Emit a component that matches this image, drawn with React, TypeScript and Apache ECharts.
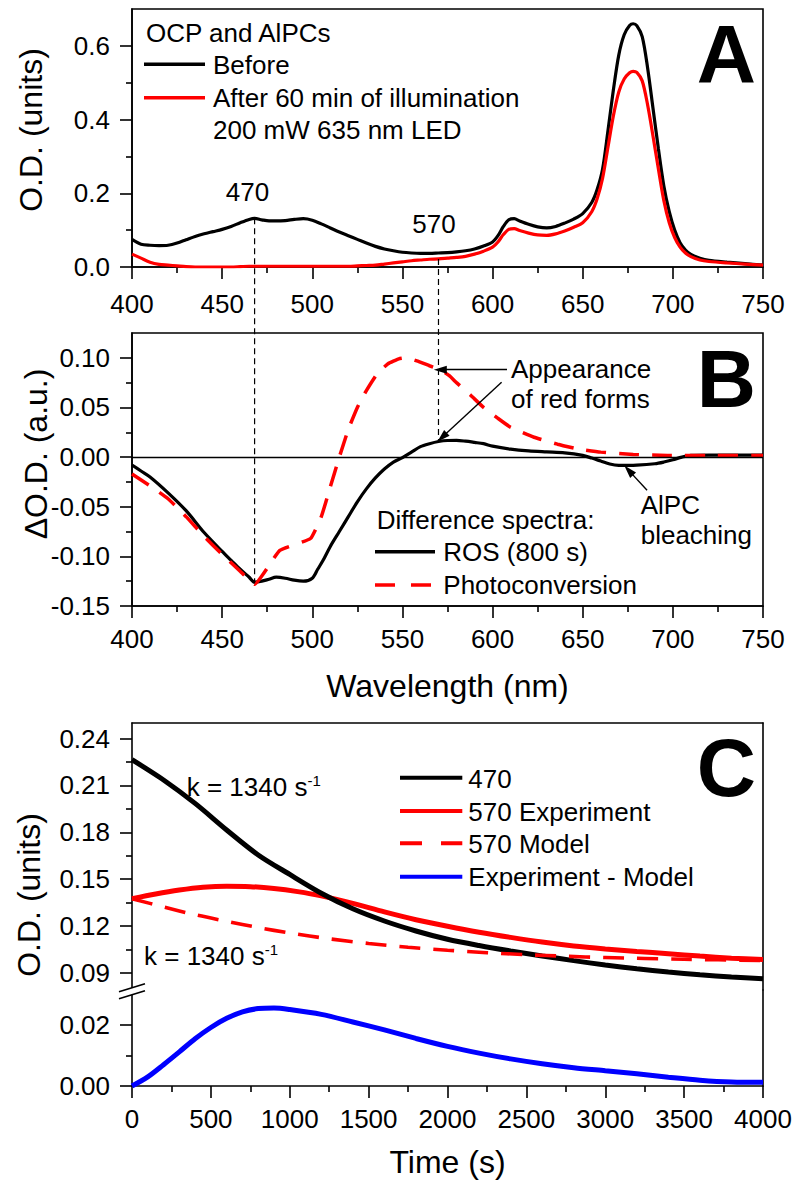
import React, { useEffect, useRef } from "react";
import * as echarts from "echarts";

const FONT = "Liberation Sans, Arial, Helvetica, sans-serif";
const RED = "#ff0000";
const BLUE = "#0000ff";
const BLACK = "#000000";

// ---------- Panel A: absorption spectra ----------
const wavelengthA = [400,405,410,415,420,425,430,435,440,445,450,455,460,465,468,472,476,480,485,490,495,500,505,510,515,520,525,530,535,540,545,550,555,560,565,570,575,580,585,590,595,600,603,606,609,612,615,620,625,630,635,640,645,650,655,658,661,664,667,670,673,676,678,680,683,686,689,692,695,698,701,704,707,710,715,720,730,740,750];
const odBefore = [0.075,0.062,0.059,0.058,0.059,0.065,0.074,0.083,0.090,0.096,
  0.102,0.110,0.120,0.129,0.132,0.128,0.125,0.125,0.126,0.129,
  0.131,0.127,0.117,0.106,0.095,0.085,0.075,0.065,0.056,0.049,
  0.044,0.040,0.038,0.037,0.037,0.038,0.039,0.041,0.044,0.049,
  0.057,0.068,0.085,0.110,0.128,0.131,0.125,0.116,0.109,0.106,
  0.110,0.119,0.130,0.145,0.175,0.210,0.265,0.370,0.480,0.575,
  0.630,0.655,0.660,0.655,0.625,0.540,0.430,0.320,0.220,0.150,
  0.100,0.066,0.046,0.034,0.024,0.018,0.013,0.009,0.005];
const odAfter = [0.035,0.024,0.013,0.007,0.005,0.003,0.001,0.000,0.000,0.000,
  0.000,0.000,0.001,0.002,0.002,0.002,0.002,0.002,0.002,0.002,
  0.002,0.002,0.002,0.002,0.002,0.002,0.003,0.004,0.005,0.008,
  0.011,0.014,0.017,0.019,0.021,0.022,0.024,0.026,0.029,0.035,
  0.043,0.054,0.068,0.088,0.102,0.104,0.099,0.092,0.087,0.086,
  0.090,0.098,0.108,0.120,0.150,0.185,0.240,0.325,0.410,0.475,
  0.510,0.527,0.531,0.528,0.505,0.440,0.355,0.265,0.180,0.120,
  0.080,0.054,0.038,0.028,0.019,0.015,0.011,0.008,0.005];
const tickA = [0, 0.2, 0.4, 0.6];
const minorTickA = [0.1, 0.3, 0.5];

// ---------- Panel B: difference spectra ----------
const wavelengthRos = [400,405,410,420,430,440,450,455,460,465,468,472,476,480,485,490,495,500,503,506,510,515,520,525,530,535,540,545,550,555,560,565,570,575,580,585,590,595,600,610,620,630,640,650,655,660,665,670,680,690,695,700,705,710,720,735,750];
const dOdRos = [-0.008,-0.014,-0.020,-0.036,-0.054,-0.076,-0.095,-0.104,-0.113,-0.121,
  -0.126,-0.125,-0.123,-0.121,-0.122,-0.124,-0.125,-0.122,-0.113,-0.104,
  -0.090,-0.075,-0.060,-0.045,-0.032,-0.021,-0.012,-0.005,-0.0005,0.005,
  0.0105,0.0135,0.0157,0.0167,0.0168,0.016,0.0148,0.0135,0.011,0.008,
  0.0062,0.0052,0.0043,0.0017,-0.001,-0.004,-0.007,-0.0083,-0.008,-0.0067,
  -0.005,-0.0027,0,0.0017,0.002,0.002,0.002];
const wavelengthPhoto = [400,410,420,430,440,450,460,468,482,499,505,510,515,520,525,530,536,542,548,552,558,565,571,576,580,588,595,603,610,623,636,648,660,678,697,720,750];
const dOdPhoto = [-0.017,-0.029,-0.042,-0.060,-0.080,-0.098,-0.115,-0.128,-0.094,-0.082,
  -0.060,-0.030,0.000,0.028,0.050,0.067,0.084,0.094,0.099,0.100,
  0.097,0.092,0.088,0.082,0.075,0.062,0.050,0.039,0.030,0.020,
  0.013,0.008,0.005,0.0027,0.0017,0.0017,0.0017];
const tickB = [-0.15, -0.1, -0.05, 0, 0.05, 0.1];
const minorTickB = [-0.125, -0.075, -0.025, 0.025, 0.075];
// annotation arrows [fromX, fromY, toX, toY] in data units
const arrowsB = [[608, 0.088, 571, 0.088], [605, 0.0755, 572, 0.020], [685.7, -0.0335, 675.5, -0.0134]];
// dashed guide lines: wavelength, top (panel A value), bottom (panel B value)
const guideLines = [[468, 0.132, -0.127], [570, 0.022, 0.016]];

// ---------- Panel C: kinetics ----------
const time470 = [0,200,400,600,800,1000,1200,1400,1600,1800,2000,2200,2400,2600,2800,3000,3200,3400,3600,3800,4000];
const od470 = [0.2265,0.2135,0.1985,0.1815,0.1655,0.1530,0.1410,0.1310,0.1232,0.1168,0.1115,0.1075,0.1040,0.1008,0.0978,0.0950,0.0926,0.0905,0.0887,0.0873,0.0862];
const time570 = [0,150,300,450,600,750,900,1050,1200,1400,1600,1800,2000,2200,2400,2600,2800,3000,3200,3400,3600,3800,4000];
const od570Exp = [0.1375,0.1405,0.1430,0.1448,0.1455,0.1452,0.1440,0.1420,0.1393,0.1345,0.1290,0.1240,0.1198,0.1160,0.1127,0.1097,0.1072,0.1053,0.1037,0.1022,0.1007,0.0994,0.0985];
const timeModel = [0,200,400,600,800,1000,1250,1500,1750,2000,2250,2500,2750,3000,3500,4000];
const od570Model = [0.1375,0.1322,0.1272,0.1230,0.1190,0.1155,0.1118,0.1088,0.1064,0.1045,0.1029,0.1016,0.1006,0.0998,0.0987,0.0979];
const timeDiff = [0,100,200,300,400,500,600,700,800,900,1000,1200,1400,1600,1800,2000,2200,2400,2600,2800,3000,3200,3400,3600,3800,4000];
const odDiff = [0,0.0030,0.0070,0.0112,0.0155,0.0192,0.0222,0.0243,0.0254,0.0256,0.0251,0.0235,0.0210,0.0184,0.0156,0.0130,0.0108,0.0089,0.0073,0.0060,0.0050,0.0040,0.0029,0.0019,0.0013,0.0012];
const tickCUp = [0.09, 0.12, 0.15, 0.18, 0.21, 0.24];
const minorTickCUp = [0.105, 0.135, 0.165, 0.195, 0.225];
const tickCLow = [0, 0.02];
const minorTickCLow = [0.01];

const zip = (xs: number[], ys: number[]) => xs.map((x, i) => [x, ys[i]]);
const lineS = { color: BLACK, width: 1.6 };

function xAxisMain(gridIndex: number, min: number, max: number, interval: number, margin: number) {
  return {
    type: "value", gridIndex, min, max, interval, position: "bottom",
    axisLine: { show: true, onZero: false, lineStyle: lineS },
    axisTick: { show: true, inside: false, length: 12, lineStyle: lineS },
    minorTick: { show: true, splitNumber: 2, length: 6, lineStyle: lineS },
    axisLabel: { show: true, margin, color: BLACK, fontSize: 26, fontFamily: FONT, formatter: (v: number) => String(v) },
    splitLine: { show: false }, minorSplitLine: { show: false },
  };
}
function yMajor(gridIndex: number, min: number, max: number, ticks: number[], digits: number) {
  return {
    type: "value", gridIndex, min, max, position: "left",
    axisLine: { show: true, onZero: false, lineStyle: lineS },
    axisTick: { show: true, inside: false, length: 12, lineStyle: lineS, customValues: ticks },
    axisLabel: { show: true, customValues: ticks, margin: 22, color: BLACK, fontSize: 26, fontFamily: FONT,
      formatter: (v: number) => (Math.abs(v) < 1e-9 ? 0 : v).toFixed(digits) },
    splitLine: { show: false },
  };
}
function yMinor(gridIndex: number, min: number, max: number, ticks: number[]) {
  return {
    type: "value", gridIndex, min, max, position: "left",
    axisLine: { show: false, onZero: false },
    axisTick: { show: true, inside: false, length: 6, lineStyle: lineS, customValues: ticks },
    axisLabel: { show: false },
    splitLine: { show: false },
  };
}
function yRightLine(gridIndex: number, min: number, max: number) {
  return {
    type: "value", gridIndex, min, max, position: "right",
    axisLine: { show: true, onZero: false, lineStyle: lineS },
    axisTick: { show: false }, axisLabel: { show: false }, splitLine: { show: false },
  };
}

function text(t: string, x: number, y: number, o: any = {}) {
  const align = o.align || "left";
  return {
    type: "text", x, y, z: 100, rotation: o.rotation || 0,
    style: {
      text: t, fill: BLACK, fontSize: o.size || 26, fontFamily: FONT, fontWeight: o.weight || "normal",
      align, textAlign: align, verticalAlign: "middle", textVerticalAlign: "middle",
    },
  };
}
function seg(x1: number, y1: number, x2: number, y2: number, color: string, width: number, dash?: number[]) {
  return {
    type: "line", z: 100, shape: { x1, y1, x2, y2 },
    style: { stroke: color, lineWidth: width, lineDash: dash || null },
  };
}
function kLabel(x: number, y: number) {
  return {
    type: "text", x, y, z: 100,
    style: {
      text: "{a|k = 1340 s}{b|-1}",
      align: "left", textAlign: "left", verticalAlign: "middle", textVerticalAlign: "middle",
      rich: {
        a: { fontSize: 26, fontFamily: FONT, fill: BLACK, lineHeight: 28 },
        b: { fontSize: 15, fontFamily: FONT, fill: BLACK, verticalAlign: "top" },
      },
    },
  };
}

function lineSeries(name: string, xi: number, yi: number, data: number[][], color: string, width: number, z: number, dash?: number[], smooth = 0.3) {
  return {
    type: "line", name, xAxisIndex: xi, yAxisIndex: yi, data,
    showSymbol: false, symbol: "none", smooth, silent: true,
    lineStyle: { color, width, type: dash || "solid" }, itemStyle: { color }, z,
  };
}

export default function App() {
  const ref = useRef<HTMLDivElement>(null);
  useEffect(() => {
    if (!ref.current) return;
    const chart = echarts.init(ref.current, null, { renderer: "svg" });
    const gridBase = { left: 132, width: 631, containLabel: false, outerBoundsMode: "none" };
    const option: any = {
      animation: false,
      backgroundColor: "#ffffff",
      grid: [
        { ...gridBase, top: 9, height: 258, show: true, borderColor: BLACK, borderWidth: 1.6, backgroundColor: "transparent" },
        { ...gridBase, top: 333, height: 273, show: true, borderColor: BLACK, borderWidth: 1.6, backgroundColor: "transparent" },
        { ...gridBase, top: 723, height: 267 },
        { ...gridBase, top: 990, height: 96 },
      ],
      xAxis: [
        xAxisMain(0, 400, 750, 50, 24),
        xAxisMain(1, 400, 750, 50, 20),
        {
          type: "value", gridIndex: 2, min: 0, max: 4000, position: "top",
          axisLine: { show: true, onZero: false, lineStyle: lineS },
          axisTick: { show: false }, axisLabel: { show: false }, splitLine: { show: false },
        },
        xAxisMain(3, 0, 4000, 500, 20),
      ],
      yAxis: [
        yMajor(0, 0, 0.7, tickA, 1),
        yMinor(0, 0, 0.7, minorTickA),
        yMajor(1, -0.15, 0.125, tickB, 2),
        yMinor(1, -0.15, 0.125, minorTickB),
        yMajor(2, 0.079, 0.25, tickCUp, 2),
        yMinor(2, 0.079, 0.25, minorTickCUp),
        yRightLine(2, 0.079, 0.25),
        yMajor(3, 0, 0.0315, tickCLow, 2),
        yMinor(3, 0, 0.0315, minorTickCLow),
        yRightLine(3, 0, 0.0315),
      ],
      series: [
        lineSeries("Before", 0, 0, zip(wavelengthA, odBefore), BLACK, 3.2, 3),
        lineSeries("After 60 min of illumination", 0, 0, zip(wavelengthA, odAfter), RED, 3.2, 4),
        {
          ...lineSeries("ROS (800 s)", 1, 2, zip(wavelengthRos, dOdRos), BLACK, 3.2, 3),
          markLine: {
            silent: true, symbol: ["none", "none"], label: { show: false },
            lineStyle: { color: BLACK, width: 1.3, type: "solid" }, data: [{ yAxis: 0 }],
          },
        },
        {
          ...lineSeries("Photoconversion", 1, 2, zip(wavelengthPhoto, dOdPhoto), RED, 3.5, 4, [20, 13], 0.12),
          markLine: {
            silent: true, symbol: ["none", "triangle"], symbolSize: [8, 13], label: { show: false },
            lineStyle: { color: BLACK, width: 1.4, type: "solid" }, itemStyle: { color: BLACK },
            data: arrowsB.map((a) => [{ coord: [a[0], a[1]] }, { coord: [a[2], a[3]] }]),
          },
        },
        lineSeries("570 Experiment", 2, 4, zip(time570, od570Exp), RED, 5, 3),
        lineSeries("470", 2, 4, zip(time470, od470), BLACK, 5, 4),
        lineSeries("570 Model", 2, 4, zip(timeModel, od570Model), RED, 3.6, 5, [21, 13]),
        lineSeries("Experiment - Model", 3, 7, zip(timeDiff, odDiff), BLUE, 5, 3),
      ],
    };
    chart.setOption(option);

    const px = (xi: number, yi: number, pt: number[]) =>
      chart.convertToPixel({ xAxisIndex: xi, yAxisIndex: yi } as any, pt) as unknown as number[];
    const guides = guideLines.map((g) => {
      const a = px(0, 0, [g[0], g[1]]);
      const b = px(1, 2, [g[0], g[2]]);
      return seg(a[0], a[1], b[0], b[1], BLACK, 1.2, [6, 4]);
    });

    const graphics: any[] = [
      ...guides,
      // Panel A legend & labels
      text("OCP and AlPCs", 146, 32.5),
      seg(144, 64.3, 205, 64.3, BLACK, 3.5),
      text("Before", 213, 65),
      seg(144, 97.7, 205, 97.7, RED, 3.5),
      text("After 60 min of illumination", 213, 98.3),
      text("200 mW 635 nm LED", 213, 130),
      text("470", 247.5, 191.7, { align: "center" }),
      text("570", 434, 223.7, { align: "center" }),
      text("A", 756, 53, { align: "right", size: 82, weight: "bold" }),
      // Panel B
      text("Appearance", 511, 368.7),
      text("of red forms", 511, 399.2),
      text("AlPC", 640.7, 504.5),
      text("bleaching", 640.7, 534.5),
      text("Difference spectra:", 376.7, 519.5),
      seg(375, 551.7, 435, 551.7, BLACK, 3.5),
      text("ROS (800 s)", 443.3, 551.7),
      seg(375, 585, 436, 585, RED, 3.5, [20, 16]),
      text("Photoconversion", 443.3, 585),
      text("B", 756, 378.8, { align: "right", size: 82, weight: "bold" }),
      // Panel C
      seg(400, 777.7, 462.3, 777.7, BLACK, 4),
      text("470", 468.3, 778.7),
      seg(400, 811, 462.3, 811, RED, 4),
      text("570 Experiment", 468.3, 811.7),
      seg(400, 843.3, 462.3, 843.3, RED, 4, [22, 19]),
      text("570 Model", 468.3, 843.7),
      seg(400, 876.7, 462.3, 876.7, BLUE, 4),
      text("Experiment - Model", 468.3, 877),
      text("C", 756, 767, { align: "right", size: 82, weight: "bold" }),
      kLabel(186.7, 787),
      kLabel(144, 956),
      // axis break
      {
        type: "polygon", z: 99,
        shape: { points: [[119, 991.7], [145, 983.7], [145, 990.7], [119, 998.7]] },
        style: { fill: "#ffffff", stroke: "none" },
      },
      seg(119, 991.7, 145, 983.7, BLACK, 1.5),
      seg(119, 998.7, 145, 990.7, BLACK, 1.5),
      // axis titles
      text("O.D. (units)", 30.5, 130, { align: "center", size: 32, rotation: Math.PI / 2 }),
      text("\u0394O.D. (a.u.)", 36, 454, { align: "center", size: 32, rotation: Math.PI / 2 }),
      text("O.D. (units)", 28.5, 895, { align: "center", size: 32, rotation: Math.PI / 2 }),
      text("Wavelength (nm)", 447.5, 685.5, { align: "center", size: 32 }),
      text("Time (s)", 447.5, 1162, { align: "center", size: 32 }),
    ];
    chart.setOption({ graphic: { elements: graphics } });
    return () => chart.dispose();
  }, []);
  return (
    <div
      ref={ref}
      style={{ position: "absolute", left: 0, top: 0, width: 794, height: 1182, background: "#fff" }}
    />
  );
}
